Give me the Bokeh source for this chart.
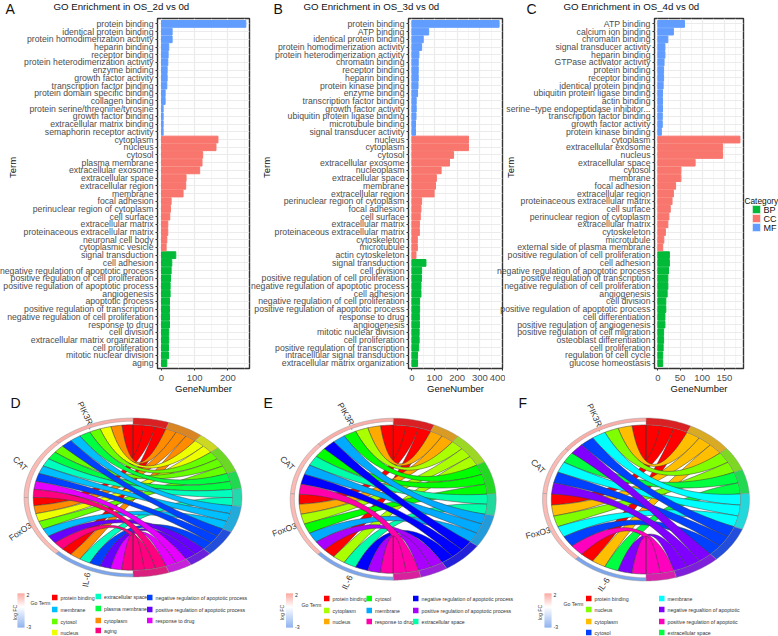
import math
from bokeh.plotting import figure
from bokeh.layouts import column, row
from bokeh.models import FactorRange, Range1d, FixedTicker
from bokeh.core.properties import value
from bokeh.embed import file_html
from bokeh.resources import INLINE

# ------------------------- bar panel data -------------------------
a_mf_terms = ["protein binding", "identical protein binding", "protein homodimerization activity", "heparin binding",
              "receptor binding", "protein heterodimerization activity", "enzyme binding", "growth factor activity",
              "transcription factor binding", "protein domain specific binding", "collagen binding",
              "protein serine/threonine/tyrosine", "growth factor binding", "extracellular matrix binding",
              "semaphorin receptor activity"]
a_mf_vals = [254, 32, 32, 22, 20, 19, 17, 17, 16, 11, 11, 5, 5, 5, 5]
a_cc_terms = ["cytoplasm", "nucleus", "cytosol", "plasma membrane", "extracellular exosome", "extracellular space",
              "extracellular region", "membrane", "focal adhesion", "perinuclear region of cytoplasm", "cell surface",
              "extracellular matrix", "proteinaceous extracellular matrix", "neuronal cell body", "cytoplasmic vesicle"]
a_cc_vals = [170, 164, 124, 122, 115, 74, 73, 65, 29, 27, 25, 19, 19, 16, 14]
a_bp_terms = ["signal transduction", "cell adhesion", "negative regulation of apoptotic process",
              "positive regulation of cell proliferation", "positive regulation of apoptotic process", "angiogenesis",
              "apoptotic process", "positive regulation of transcription", "negative regulation of cell proliferation",
              "response to drug", "cell division", "extracellular matrix organization", "cell proliferation",
              "mitotic nuclear division", "aging"]
a_bp_vals = [43, 31, 29, 27, 26, 26, 24, 24, 24, 24, 22, 22, 21, 21, 16]

b_mf_terms = ["protein binding", "ATP binding", "identical protein binding", "protein homodimerization activity",
              "protein heterodimerization activity", "chromatin binding", "receptor binding", "heparin binding",
              "protein kinase binding", "enzyme binding", "transcription factor binding", "growth factor activity",
              "ubiquitin protein ligase binding", "microtubule binding", "signal transducer activity"]
b_mf_vals = [385, 74, 50, 43, 31, 28, 28, 28, 27, 25, 19, 19, 18, 16, 16]
b_cc_terms = ["nucleus", "cytoplasm", "cytosol", "extracellular exosome", "nucleoplasm", "extracellular space",
              "membrane", "extracellular region", "perinuclear region of cytoplasm", "focal adhesion", "cell surface",
              "extracellular matrix", "proteinaceous extracellular matrix", "cytoskeleton", "microtubule",
              "actin cytoskeleton"]
b_cc_vals = [250, 250, 184, 166, 129, 108, 104, 98, 43, 40, 37, 33, 33, 24, 24, 18]
b_bp_terms = ["signal transduction", "cell division", "positive regulation of cell proliferation",
              "negative regulation of apoptotic process", "cell adhesion", "negative regulation of cell proliferation",
              "positive regulation of apoptotic process", "response to drug", "angiogenesis",
              "mitotic nuclear division", "cell proliferation", "positive regulation of transcription",
              "intracellular signal transduction", "extracellular matrix organization"]
b_bp_vals = [62, 43, 42, 40, 40, 34, 34, 33, 33, 32, 32, 30, 25, 25]

c_mf_terms = ["ATP binding", "calcium ion binding", "chromatin binding", "signal transducer activity", "heparin binding",
              "GTPase activator activity", "protein binding", "receptor binding", "identical protein binding",
              "ubiquitin protein ligase binding", "actin binding", "serine\u2212type endopeptidase inhibitor...",
              "transcription factor binding", "growth factor activity", "protein kinase binding"]
c_mf_vals = [60, 35, 22.5, 16, 16, 14, 13, 13, 12, 10.5, 10.5, 10.5, 10, 10, 8]
c_cc_terms = ["cytoplasm", "extracellular exosome", "nucleus", "extracellular space", "cytosol", "membrane",
              "focal adhesion", "extracellular region", "proteinaceous extracellular matrix", "cell surface",
              "perinuclear region of cytoplasm", "extracellular matrix", "cytoskeleton", "microtubule",
              "external side of plasma membrane"]
c_cc_vals = [185, 146, 146, 84, 52, 52, 40, 35, 32, 28, 25, 22.5, 17, 13.5, 11]
c_bp_terms = ["positive regulation of cell proliferation", "cell adhesion", "negative regulation of apoptotic process",
              "positive regulation of transcription", "negative regulation of cell proliferation", "angiogenesis",
              "cell division", "positive regulation of apoptotic process", "cell differentiation",
              "positive regulation of angiogenesis", "positive regulation of cell migration",
              "osteoblast differentiation", "cell proliferation", "regulation of cell cycle", "glucose homeostasis"]
c_bp_vals = [26, 26, 24, 22.5, 22.5, 21, 18, 18, 16, 16, 13, 13, 12, 11, 11]

ticks_a = [0, 100, 200]
ticks_b = [0, 100, 200, 300, 400]
ticks_c = [0, 50, 100, 150]

titles = ["GO Enrichment in OS_2d vs 0d", "GO Enrichment in OS_3d vs 0d", "GO Enrichment in OS_4d vs 0d"]
category_names = ["BP", "CC", "MF"]

# ------------------------- chord panel data -------------------------
genes = ["PIK3R1", "CAT", "FoxO3", "IL-6"]
P, C, F, I = genes

d_terms = [("protein binding", "#FF0000", [P, F, I]), ("cytoplasm", "#FF8C00", [P, F, I]),
           ("nucleus", "#EEFF00", [P, F]), ("cytosol", "#66FF00", [P, C, F]),
           ("plasma membrane", "#00FF40", [P, C]), ("extracellular space", "#00FFBF", [C, I]),
           ("membrane", "#00BFFF", [P, C, F]), ("negative regulation of apoptotic process", "#0040FF", [P, C, I]),
           ("positive regulation of apoptotic process", "#6600FF", [F, I]),
           ("response to drug", "#E600FF", [C, I]), ("aging", "#FF0080", [C, F, I])]
e_terms = [("protein binding", "#FF0000", [P, F, I]), ("nucleus", "#FFAA00", [P, F]),
           ("cytoplasm", "#AAFF00", [P, F, I]), ("cytosol", "#00FF00", [P, C, F]),
           ("extracellular space", "#00FFAA", [C, I]), ("membrane", "#00AAFF", [P, C, F]),
           ("negative regulation of apoptotic process", "#0000FF", [P, C, I]),
           ("positive regulation of apoptotic process", "#AA00FF", [F, I]),
           ("response to drug", "#FF00AA", [C, I])]
f_terms = [("protein binding", "#FF0000", [P, F, I]), ("cytoplasm", "#FFBF00", [P, F, I]),
           ("nucleus", "#80FF00", [P, F]), ("extracellular space", "#00FF40", [C, I]),
           ("membrane", "#00FFFF", [P, C, F]), ("cytosol", "#0040FF", [P, C, F]),
           ("negative regualtion of apoptotic", "#8000FF", [P, C, I]),
           ("positive regulation of apoptotic", "#FF00BF", [F, I])]

log_fc = {P: 1.4, C: 1.2, F: 1.2, I: -2.7}
fc_top, fc_bottom = 2, -3

d_legend = [("protein binding", 0, 0), ("membrane", 0, 1), ("cytosol", 0, 2), ("nucleus", 0, 3),
            ("extracellular space", 1, 0), ("plasma membrane", 1, 1), ("cytoplasm", 1, 2), ("aging", 1, 3),
            ("negative regulation of apoptotic process", 2, 0), ("positive regulation of apoptotic process", 2, 1),
            ("response to drug", 2, 2)]
e_legend = [("protein binding", 0, 0), ("cytoplasm", 0, 1), ("nucleus", 0, 2),
            ("cytosol", 1, 0), ("membrane", 1, 1), ("response to drug", 1, 2),
            ("negative regulation of apoptotic process", 2, 0), ("positive regulation of apoptotic process", 2, 1),
            ("extracellular space", 2, 2)]
f_legend = [("protein binding", 0, 0), ("nucleus", 0, 1), ("cytoplasm", 0, 2), ("cytosol", 0, 3),
            ("membrane", 1, 0), ("negative regualtion of apoptotic", 1, 1),
            ("positive regulation of apoptotic", 1, 2), ("extracellular space", 1, 3)]

# ------------------------- styling -------------------------
FONT = "Liberation Sans"
COL_BP, COL_CC, COL_MF = "#00BA38", "#F8766D", "#619CFF"
ROW1_H, ROW2_H = 394, 242
LABEL_SIZE = "8.7px"
AXIS_ROOM = 172


def bar_panel(x0, x1, frame, xmin, xmax, ticks, minor, mf, cc, bp, margin_left):
    left, right, top, bottom = frame
    mf_t, mf_v = mf
    cc_t, cc_v = cc
    bp_t, bp_v = bp
    factors = (mf_t + cc_t + bp_t)[::-1]
    p = figure(width=x1 - x0, height=ROW1_H, x_range=Range1d(xmin, xmax),
               y_range=FactorRange(factors=factors, factor_padding=0, range_padding=0.2, range_padding_units="absolute"),
               min_border_left=left - x0, min_border_right=x1 - right, min_border_top=top,
               min_border_bottom=ROW1_H - bottom, output_backend="svg", toolbar_location=None,
               margin=(0, 0, 0, margin_left), border_fill_color=None)
    p.background_fill_color = "white"
    p.hbar(y=bp_t, right=bp_v, left=0, height=0.88, color=COL_BP)
    p.hbar(y=cc_t, right=cc_v, left=0, height=0.88, color=COL_CC)
    p.hbar(y=mf_t, right=mf_v, left=0, height=0.88, color=COL_MF)

    p.outline_line_color = "#333333"
    p.outline_line_width = 1.4
    p.xaxis.ticker = FixedTicker(ticks=ticks, minor_ticks=minor)
    p.xaxis.axis_line_color = None
    p.yaxis.axis_line_color = None
    p.xaxis.minor_tick_line_color = None
    p.axis.major_tick_line_color = "#333333"
    p.axis.major_tick_out = 2
    p.axis.major_tick_in = 0
    p.xaxis.major_label_text_font = FONT
    p.yaxis.major_label_text_font = FONT
    p.xaxis.major_label_text_font_size = "9.5px"
    p.yaxis.major_label_text_font_size = LABEL_SIZE
    p.axis.major_label_text_color = "#4D4D4D"
    p.axis.major_label_standoff = 2
    p.xgrid.grid_line_color = "#EBEBEB"
    p.xgrid.grid_line_width = 1.2
    p.xgrid.minor_grid_line_color = "#F0F0F0"
    p.xgrid.minor_grid_line_width = 0.7
    p.ygrid.grid_line_color = "#EBEBEB"
    p.ygrid.grid_line_width = 1.0
    return p


def mix(hex_color, amount=0.72, base=(120, 115, 125)):
    rgb = [int(hex_color[i:i + 2], 16) for i in (1, 3, 5)]
    return "#%02X%02X%02X" % tuple(int(round(amount * c + (1 - amount) * b)) for c, b in zip(rgb, base))


def fc_color(v):
    top, bottom = (249, 140, 130), (108, 155, 235)
    end = top if v > 0 else bottom
    lim = fc_top if v > 0 else -fc_bottom
    t = min(abs(v) / lim, 1)
    return "#%02X%02X%02X" % tuple(int(round(255 + (e - 255) * t)) for e in end)


def chord_panel(x0, x1, cx, cy, rx, ry, terms, legend, col_x, row_y, letter, letter_x, bar_x, go_xy, logfc_x, gene_angles):
    to_x = lambda px: (px - cx) / rx
    to_y = lambda py: (cy - py) / ry
    p = figure(width=x1 - x0, height=ROW2_H, x_range=Range1d(to_x(x0), to_x(x1)),
               y_range=Range1d(to_y(ROW1_H + ROW2_H), to_y(ROW1_H)), min_border=0,
               output_backend="svg", toolbar_location=None)
    p.axis.visible = False
    p.grid.visible = False
    p.outline_line_color = None

    R, RG = 0.915, 0.96
    total = sum(len(t[2]) for t in terms)
    step = 180.0 / total

    def pt(theta, r=1.0):
        a = math.radians(theta)
        return r * math.sin(a), r * math.cos(a)

    def arc(a0, a1, r, n=14):
        return [pt(a0 + (a1 - a0) * i / n, r) for i in range(n + 1)]

    gene_counts = {g: sum(g in t[2] for t in terms) for g in genes}
    gene_cursor, start = {}, 0
    gene_spans = {}
    for g in genes:
        gene_cursor[g] = start
        gene_spans[g] = (start, start + gene_counts[g])
        start += gene_counts[g]

    xs, ys, fills = [], [], []
    rx_ring, ry_ring, c_ring = [], [], []
    pos = 0
    for name, col, members in terms:
        sector_start = pos
        for g in genes:
            if g not in members:
                continue
            a1 = -gene_cursor[g] * step
            a2 = -(gene_cursor[g] + 1) * step
            b1 = pos * step
            b2 = (pos + 1) * step
            gene_cursor[g] += 1
            pos += 1
            A1, A2, B1, B2 = pt(a1, R), pt(a2, R), pt(b1, R), pt(b2, R)
            poly = []
            n = 30
            for i in range(n + 1):
                t = i / n
                poly.append(((1 - t) ** 2 * A1[0] + t ** 2 * B1[0], (1 - t) ** 2 * A1[1] + t ** 2 * B1[1]))
            poly += arc(b1, b2, R, 6)
            for i in range(n + 1):
                t = i / n
                poly.append(((1 - t) ** 2 * B2[0] + t ** 2 * A2[0], (1 - t) ** 2 * B2[1] + t ** 2 * A2[1]))
            poly += arc(a2, a1, R, 6)
            xs.append([q[0] for q in poly])
            ys.append([q[1] for q in poly])
            fills.append(col)
        ring = arc(sector_start * step, pos * step, R) + arc(pos * step, sector_start * step, 1.0)
        rx_ring.append([q[0] for q in ring])
        ry_ring.append([q[1] for q in ring])
        c_ring.append(mix(col))
    p.patches(xs, ys, fill_color=fills, line_color="#3A3A3A", line_width=0.5)
    p.patches(rx_ring, ry_ring, fill_color=c_ring, line_color="#8A8A8A", line_width=0.4)

    gx, gy, gc = [], [], []
    for g in genes:
        s, e = gene_spans[g]
        ring = arc(-s * step, -e * step, RG) + arc(-e * step, -s * step, 1.0)
        gx.append([q[0] for q in ring])
        gy.append([q[1] for q in ring])
        gc.append(fc_color(log_fc[g]))
        mid = pt(-(s + e) / 2 * step, 1.12)
        p.text([mid[0]], [mid[1]], text=[g], text_font=value(FONT), text_font_size="8.5px", text_color="#333333",
               text_align="center", text_baseline="middle", angle=math.radians(gene_angles[g]))
    p.patches(gx, gy, fill_color=gc, line_color="#9A9A9A", line_width=0.5)

    p.text([to_x(letter_x)], [to_y(402)], text=[letter], text_font=value(FONT), text_font_size="14px",
           text_color="#111111", text_baseline="middle")

    by0, by1 = 593, 627
    n = 34
    vals = [fc_top + (fc_bottom - fc_top) * (i + 0.5) / n for i in range(n)]
    p.quad(left=[to_x(bar_x)] * n, right=[to_x(bar_x + 7)] * n,
           top=[to_y(by0 + i * (by1 - by0) / n) for i in range(n)],
           bottom=[to_y(by0 + (i + 1) * (by1 - by0) / n) for i in range(n)],
           fill_color=[fc_color(v) for v in vals], line_color=None)

    def small(text, px, py, angle=0, align="left", size="5.2px"):
        p.text([to_x(px)], [to_y(py)], text=[text], text_font=value(FONT), text_font_size=size, text_color="#333333",
               text_align=align, text_baseline="middle", angle=math.radians(angle))

    small(str(fc_top), bar_x + 9, by0 + 1)
    small(str(fc_bottom), bar_x + 9, by1 - 1)
    small("log FC", logfc_x, (by0 + by1) / 2 + 2, angle=90, align="center")
    small("Go Term", go_xy[0], go_xy[1])

    colors = {t[0]: t[1] for t in terms}
    for name, c, r in legend:
        sx, sy = col_x[c], row_y[c][r]
        p.quad(left=[to_x(sx)], right=[to_x(sx + 5.5)], top=[to_y(sy - 2.8)], bottom=[to_y(sy + 2.8)],
               fill_color=colors[name], line_color=None)
        small(name, sx + 8.5, sy)
    return p


frames = [(157, 249, 18, 368), (408, 502, 15, 369), (654, 743, 18, 372)]

pa = bar_panel(157 - AXIS_ROOM, 252, frames[0], -12, 265, ticks_a, [50, 150, 250],
               (a_mf_terms, a_mf_vals), (a_cc_terms, a_cc_vals), (a_bp_terms, a_bp_vals), 157 - AXIS_ROOM)
pb = bar_panel(408 - AXIS_ROOM, 505, frames[1], -15, 400, ticks_b, [50, 150, 250, 350],
               (b_mf_terms, b_mf_vals), (b_cc_terms, b_cc_vals), (b_bp_terms, b_bp_vals), 408 - AXIS_ROOM - 252)
pc = bar_panel(654 - AXIS_ROOM, 778, frames[2], -7.5, 193, ticks_c, [25, 75, 125, 175],
               (c_mf_terms, c_mf_vals), (c_cc_terms, c_cc_vals), (c_bp_terms, c_bp_vals), 654 - AXIS_ROOM - 505)

# transparent sheet over the top row, one unit per pixel, for the free texts outside the plot frames
sheet = figure(width=778, height=ROW1_H, x_range=Range1d(0, 778), y_range=Range1d(ROW1_H, 0), min_border=0,
               output_backend="svg", toolbar_location=None, margin=(-ROW1_H, 0, 0, 0),
               background_fill_color=None, border_fill_color=None)
sheet.axis.visible = False
sheet.grid.visible = False
sheet.outline_line_color = None


def sheet_text(text, px, py, size, angle=0, align="left", color="#111111"):
    sheet.text([px], [py], text=[text], text_font=value(FONT), text_font_size=size, text_color=color,
               text_align=align, text_baseline="middle", angle=math.radians(angle))


for t, tx, letter, lx, term_x, fr in zip(titles, [53, 303, 563], "ABC", [5, 273, 526], [12, 266, 510], frames):
    sheet_text(t, tx, 6, "9.7px")
    sheet_text(letter, lx, 8, "14px")
    sheet_text("Term", term_x, 167, "9.5px", angle=90, align="center")
    sheet_text("GeneNumber", (fr[0] + fr[1]) / 2, 388, "9.5px", align="center")

sheet_text("Category", 744, 200, "8.3px")
for name, col, sy in zip(category_names, [COL_BP, COL_CC, COL_MF], [209, 218, 227]):
    sheet.quad(left=[752], right=[760], top=[sy - 4], bottom=[sy + 4], fill_color=col, line_color="white", line_width=0.5)
    sheet_text(name, 763, sy, "9px")

pd_ = chord_panel(0, 258, 132.5, 497, 109, 79.5, d_terms, d_legend, [51.5, 95, 146.5],
                  [[597, 609, 621, 632], [596, 608, 620, 630], [597, 609, 620]], "D", 10, 17, (30, 602), 14,
                  {P: -65, C: -45, F: 35, I: 80})
pe = chord_panel(258, 516, 392.7, 498.7, 103, 81, e_terms, e_legend, [323.5, 366, 412.5],
                 [[598, 610, 621], [598, 610, 621], [598, 610, 621]], "E", 263, 285.5, (301, 604), 281,
                 {P: -60, C: -45, F: 20, I: 65})
pf = chord_panel(516, 778, 645.5, 499, 103.5, 81.5, f_terms, f_legend, [585.5, 658.5],
                 [[598, 609, 621, 632], [598, 609, 621, 632]], "F", 518, 544, (563, 603), 539,
                 {P: -65, C: -45, F: 15, I: 55})

page = column(row(pa, pb, pc, spacing=0), sheet, row(pd_, pe, pf, spacing=0), spacing=0)
open("out.html", "w").write(file_html(page, INLINE))
